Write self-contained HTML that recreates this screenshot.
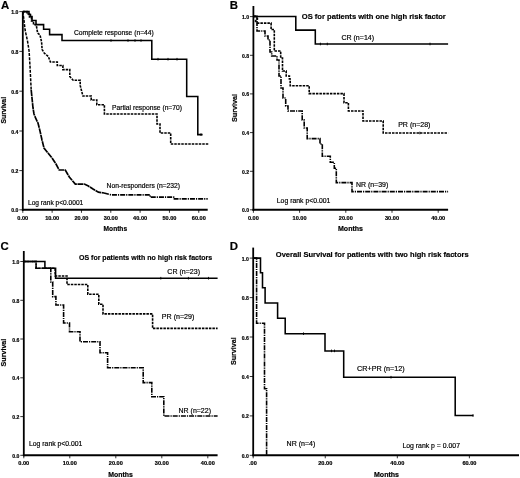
<!DOCTYPE html>
<html><head><meta charset="utf-8"><style>
html,body{margin:0;padding:0;background:#fff;}
body{width:520px;height:478px;overflow:hidden;}
svg{display:block;will-change:transform;font-family:"Liberation Sans", sans-serif;}
text{fill:#000;stroke:#000;stroke-width:0.18px;}
</style></head><body>
<svg width="520" height="478" viewBox="0 0 520 478">
<rect width="520" height="478" fill="#fff"/>
<text x="0.9" y="9.2" font-size="11.4" font-weight="bold" text-anchor="start">A</text>
<line x1="22.8" y1="11.6" x2="22.8" y2="210.8" stroke="#000" stroke-width="1.8"/>
<line x1="19.3" y1="11.6" x2="22.8" y2="11.6" stroke="#000" stroke-width="0.8"/>
<text x="18.4" y="14.1" font-size="5.1" font-weight="bold" text-anchor="end">1.0</text>
<line x1="19.3" y1="51.4" x2="22.8" y2="51.4" stroke="#000" stroke-width="0.8"/>
<text x="18.4" y="53.9" font-size="5.1" font-weight="bold" text-anchor="end">0.8</text>
<line x1="19.3" y1="91.2" x2="22.8" y2="91.2" stroke="#000" stroke-width="0.8"/>
<text x="18.4" y="93.7" font-size="5.1" font-weight="bold" text-anchor="end">0.6</text>
<line x1="19.3" y1="131.0" x2="22.8" y2="131.0" stroke="#000" stroke-width="0.8"/>
<text x="18.4" y="133.5" font-size="5.1" font-weight="bold" text-anchor="end">0.4</text>
<line x1="19.3" y1="170.6" x2="22.8" y2="170.6" stroke="#000" stroke-width="0.8"/>
<text x="18.4" y="173.1" font-size="5.1" font-weight="bold" text-anchor="end">0.2</text>
<line x1="19.3" y1="209.8" x2="22.8" y2="209.8" stroke="#000" stroke-width="0.8"/>
<text x="18.4" y="212.3" font-size="5.1" font-weight="bold" text-anchor="end">0.0</text>
<line x1="21.900000000000002" y1="209.8" x2="207.7" y2="209.8" stroke="#000" stroke-width="1.9"/>
<line x1="22.8" y1="209.8" x2="22.8" y2="212.8" stroke="#000" stroke-width="0.8"/>
<text x="22.8" y="219.5" font-size="5.6" font-weight="bold" text-anchor="middle">0.00</text>
<line x1="52.129999999999995" y1="209.8" x2="52.129999999999995" y2="212.8" stroke="#000" stroke-width="0.8"/>
<text x="52.129999999999995" y="219.5" font-size="5.6" font-weight="bold" text-anchor="middle">10.00</text>
<line x1="81.46" y1="209.8" x2="81.46" y2="212.8" stroke="#000" stroke-width="0.8"/>
<text x="81.46" y="219.5" font-size="5.6" font-weight="bold" text-anchor="middle">20.00</text>
<line x1="110.78999999999999" y1="209.8" x2="110.78999999999999" y2="212.8" stroke="#000" stroke-width="0.8"/>
<text x="110.78999999999999" y="219.5" font-size="5.6" font-weight="bold" text-anchor="middle">30.00</text>
<line x1="140.12" y1="209.8" x2="140.12" y2="212.8" stroke="#000" stroke-width="0.8"/>
<text x="140.12" y="219.5" font-size="5.6" font-weight="bold" text-anchor="middle">40.00</text>
<line x1="169.45" y1="209.8" x2="169.45" y2="212.8" stroke="#000" stroke-width="0.8"/>
<text x="169.45" y="219.5" font-size="5.6" font-weight="bold" text-anchor="middle">50.00</text>
<line x1="198.78" y1="209.8" x2="198.78" y2="212.8" stroke="#000" stroke-width="0.8"/>
<text x="198.78" y="219.5" font-size="5.6" font-weight="bold" text-anchor="middle">60.00</text>
<text x="0" y="0" font-size="6.6" font-weight="bold" text-anchor="middle" textLength="26.69999999999999" lengthAdjust="spacingAndGlyphs" transform="translate(5.8,110.25) rotate(-90)">Survival</text>
<text x="103.6" y="230.7" font-size="6.7" font-weight="bold" textLength="23.5" lengthAdjust="spacingAndGlyphs" text-anchor="start">Months</text>
<polyline points="22.8,11.6 29,11.6 29,14.5 30.5,14.5 30.5,16.5 32,16.5 32,20.5 36,20.5 36,24.6 43.6,24.6 43.6,29.3 49.6,29.3 49.6,34.6 62,34.6 62,40.5 151.8,40.5 151.8,59.2 186.7,59.2 186.7,96.4 197.8,96.4 197.8,134.6 202.6,134.6" fill="none" stroke="#000" stroke-width="1.55" stroke-linejoin="miter" stroke-linecap="butt"/>
<polyline points="22.8,11.6 27,11.6 27,14 29.5,14 29.5,17 31.5,17 31.5,21 33.5,21 33.5,24.6 36.2,24.6 36.6,27 37.6,33 40,35 41.6,42 42.1,49.5 44.2,53 48.3,56.5 50.4,62 57.3,62 57.3,65.5 62.9,65.5 62.9,69.6 69.8,69.6 69.8,76.5 73.2,80.3 80.2,80.3 80.2,85.5 82.9,96 91.2,96 91.2,100 96.8,100 96.8,104.8 104.4,104.8 104.4,114 157,114 157,124 160,124 160,133 170.7,133 170.7,144 208.6,144" fill="none" stroke="#000" stroke-width="1.6" stroke-dasharray="2.5,1" stroke-linejoin="miter" stroke-linecap="butt"/>
<polyline points="22.8,11.6 23.7,18 25.1,30 27.5,41 29.1,51 30.1,68 31.2,90" fill="none" stroke="#000" stroke-width="1.5" stroke-dasharray="3,1.2" stroke-linejoin="miter" stroke-linecap="butt"/>
<polyline points="31.2,90 33,108 34,114 36,119 38,123 40,131 42,140 44,148 48,153 52,158 56,164 59.2,170 65.3,170 69.3,177 75.3,184.1 84.3,184.1 88.4,186.1 93,189 98.4,192.2 104,193" fill="none" stroke="#000" stroke-width="1.7" stroke-dasharray="6,0.6" stroke-linejoin="miter" stroke-linecap="butt"/>
<polyline points="104,193 111,194.9 150.2,194.9 150.2,197.1 174.4,197.1 174.4,198.9 207.7,198.9" fill="none" stroke="#000" stroke-width="1.6" stroke-dasharray="5,1,1.2,1" stroke-linejoin="miter" stroke-linecap="butt"/>
<text x="74" y="35.4" font-size="6.7" textLength="79.8" lengthAdjust="spacingAndGlyphs" text-anchor="start">Complete response (n=44)</text>
<text x="112" y="110" font-size="6.7" textLength="70" lengthAdjust="spacingAndGlyphs" text-anchor="start">Partial response (n=70)</text>
<text x="106.6" y="188" font-size="6.7" textLength="73.4" lengthAdjust="spacingAndGlyphs" text-anchor="start">Non-responders (n=232)</text>
<text x="28" y="205.2" font-size="6.7" textLength="55.3" lengthAdjust="spacingAndGlyphs" text-anchor="start">Log rank p&lt;0.0001</text>
<text x="229.7" y="9.2" font-size="11.4" font-weight="bold" text-anchor="start">B</text>
<line x1="253.4" y1="6" x2="253.4" y2="210.8" stroke="#000" stroke-width="1.8"/>
<line x1="249.9" y1="16.6" x2="253.4" y2="16.6" stroke="#000" stroke-width="0.8"/>
<text x="249.0" y="19.1" font-size="5.1" font-weight="bold" text-anchor="end">1.0</text>
<line x1="249.9" y1="55.3" x2="253.4" y2="55.3" stroke="#000" stroke-width="0.8"/>
<text x="249.0" y="57.8" font-size="5.1" font-weight="bold" text-anchor="end">0.8</text>
<line x1="249.9" y1="93.9" x2="253.4" y2="93.9" stroke="#000" stroke-width="0.8"/>
<text x="249.0" y="96.4" font-size="5.1" font-weight="bold" text-anchor="end">0.6</text>
<line x1="249.9" y1="132.6" x2="253.4" y2="132.6" stroke="#000" stroke-width="0.8"/>
<text x="249.0" y="135.1" font-size="5.1" font-weight="bold" text-anchor="end">0.4</text>
<line x1="249.9" y1="171.3" x2="253.4" y2="171.3" stroke="#000" stroke-width="0.8"/>
<text x="249.0" y="173.8" font-size="5.1" font-weight="bold" text-anchor="end">0.2</text>
<line x1="249.9" y1="209.8" x2="253.4" y2="209.8" stroke="#000" stroke-width="0.8"/>
<text x="249.0" y="212.3" font-size="5.1" font-weight="bold" text-anchor="end">0.0</text>
<line x1="252.5" y1="209.8" x2="448.1" y2="209.8" stroke="#000" stroke-width="1.9"/>
<line x1="253.4" y1="209.8" x2="253.4" y2="212.8" stroke="#000" stroke-width="0.8"/>
<text x="253.4" y="219.5" font-size="5.6" font-weight="bold" text-anchor="middle">0.00</text>
<line x1="299.6" y1="209.8" x2="299.6" y2="212.8" stroke="#000" stroke-width="0.8"/>
<text x="299.6" y="219.5" font-size="5.6" font-weight="bold" text-anchor="middle">10.00</text>
<line x1="345.8" y1="209.8" x2="345.8" y2="212.8" stroke="#000" stroke-width="0.8"/>
<text x="345.8" y="219.5" font-size="5.6" font-weight="bold" text-anchor="middle">20.00</text>
<line x1="392.0" y1="209.8" x2="392.0" y2="212.8" stroke="#000" stroke-width="0.8"/>
<text x="392.0" y="219.5" font-size="5.6" font-weight="bold" text-anchor="middle">30.00</text>
<line x1="438.20000000000005" y1="209.8" x2="438.20000000000005" y2="212.8" stroke="#000" stroke-width="0.8"/>
<text x="438.20000000000005" y="219.5" font-size="5.6" font-weight="bold" text-anchor="middle">40.00</text>
<text x="0" y="0" font-size="6.6" font-weight="bold" text-anchor="middle" textLength="28" lengthAdjust="spacingAndGlyphs" transform="translate(237.3,108.0) rotate(-90)">Survival</text>
<text x="338" y="231.4" font-size="6.7" font-weight="bold" textLength="25" lengthAdjust="spacingAndGlyphs" text-anchor="start">Months</text>
<text x="301.8" y="19.1" font-size="7.58" font-weight="bold" textLength="144" lengthAdjust="spacingAndGlyphs" text-anchor="start">OS for patients with one high risk factor</text>
<polyline points="253.4,16.4 295.8,16.4 295.8,30.1 315.3,30.1 315.3,44 448.1,44" fill="none" stroke="#000" stroke-width="1.55" stroke-linejoin="miter" stroke-linecap="butt"/>
<polyline points="253.4,16.4 255.5,16.4 257.5,19 255.5,21 257.5,23.1 271.1,23.1 271.1,29.5 274.3,29.5 274.3,51 280.7,51 280.7,58 282.5,58 282.5,71 286.2,71 286.2,76 289.4,76 289.4,79 290.2,79 290.2,85.8 309.2,85.8 309.2,93.6 344,93.6 344,102.8 348.4,102.8 348.4,111 363,111 363,121 383.2,121 383.2,133 448.1,133" fill="none" stroke="#000" stroke-width="1.6" stroke-dasharray="2.5,1" stroke-linejoin="miter" stroke-linecap="butt"/>
<polyline points="253.4,16.4 257,16.4 257,31 265,31 265,36 268,36 268,40 270,40 270,52 271.7,52 271.7,56 277,56 277,60 279,60 279,76 281,76 281,88 283,88 283,98 285.7,98 285.7,106 288,106 288,111 302.2,111 302.2,120 304.2,120 304.2,128 307.2,128 307.2,138.6 320,138.6 320,144 322.3,144 322.3,156.3 330.3,156.3 330.3,162.3 334.3,162.3 334.3,168.3 336.3,168.3 336.3,182.6 352,182.6 352,191.6 448.1,191.6" fill="none" stroke="#000" stroke-width="1.6" stroke-dasharray="5,1,1.2,1" stroke-linejoin="miter" stroke-linecap="butt"/>
<text x="341.4" y="39.9" font-size="6.7" textLength="32.7" lengthAdjust="spacingAndGlyphs" text-anchor="start">CR (n=14)</text>
<text x="398.2" y="126.5" font-size="6.7" textLength="32.2" lengthAdjust="spacingAndGlyphs" text-anchor="start">PR (n=28)</text>
<text x="356" y="187" font-size="6.7" textLength="32.2" lengthAdjust="spacingAndGlyphs" text-anchor="start">NR (n=39)</text>
<text x="276.8" y="202.6" font-size="6.7" textLength="53.6" lengthAdjust="spacingAndGlyphs" text-anchor="start">Log rank p&lt;0.001</text>
<text x="0.4" y="250.3" font-size="11.4" font-weight="bold" text-anchor="start">C</text>
<line x1="23.8" y1="251" x2="23.8" y2="456.3" stroke="#000" stroke-width="1.8"/>
<line x1="20.3" y1="261.5" x2="23.8" y2="261.5" stroke="#000" stroke-width="0.8"/>
<text x="19.4" y="264.0" font-size="5.1" font-weight="bold" text-anchor="end">1.0</text>
<line x1="20.3" y1="300.3" x2="23.8" y2="300.3" stroke="#000" stroke-width="0.8"/>
<text x="19.4" y="302.8" font-size="5.1" font-weight="bold" text-anchor="end">0.8</text>
<line x1="20.3" y1="339.0" x2="23.8" y2="339.0" stroke="#000" stroke-width="0.8"/>
<text x="19.4" y="341.5" font-size="5.1" font-weight="bold" text-anchor="end">0.6</text>
<line x1="20.3" y1="377.8" x2="23.8" y2="377.8" stroke="#000" stroke-width="0.8"/>
<text x="19.4" y="380.3" font-size="5.1" font-weight="bold" text-anchor="end">0.4</text>
<line x1="20.3" y1="416.6" x2="23.8" y2="416.6" stroke="#000" stroke-width="0.8"/>
<text x="19.4" y="419.1" font-size="5.1" font-weight="bold" text-anchor="end">0.2</text>
<line x1="20.3" y1="455.3" x2="23.8" y2="455.3" stroke="#000" stroke-width="0.8"/>
<text x="19.4" y="457.8" font-size="5.1" font-weight="bold" text-anchor="end">0.0</text>
<line x1="22.900000000000002" y1="455.3" x2="217.6" y2="455.3" stroke="#000" stroke-width="1.9"/>
<line x1="23.8" y1="455.3" x2="23.8" y2="458.3" stroke="#000" stroke-width="0.8"/>
<text x="23.8" y="465.0" font-size="5.6" font-weight="bold" text-anchor="middle">0.00</text>
<line x1="69.8" y1="455.3" x2="69.8" y2="458.3" stroke="#000" stroke-width="0.8"/>
<text x="69.8" y="465.0" font-size="5.6" font-weight="bold" text-anchor="middle">10.00</text>
<line x1="115.8" y1="455.3" x2="115.8" y2="458.3" stroke="#000" stroke-width="0.8"/>
<text x="115.8" y="465.0" font-size="5.6" font-weight="bold" text-anchor="middle">20.00</text>
<line x1="161.8" y1="455.3" x2="161.8" y2="458.3" stroke="#000" stroke-width="0.8"/>
<text x="161.8" y="465.0" font-size="5.6" font-weight="bold" text-anchor="middle">30.00</text>
<line x1="207.8" y1="455.3" x2="207.8" y2="458.3" stroke="#000" stroke-width="0.8"/>
<text x="207.8" y="465.0" font-size="5.6" font-weight="bold" text-anchor="middle">40.00</text>
<text x="0" y="0" font-size="6.6" font-weight="bold" text-anchor="middle" textLength="27.69999999999999" lengthAdjust="spacingAndGlyphs" transform="translate(5.8,352.54999999999995) rotate(-90)">Survival</text>
<text x="108.2" y="477.0" font-size="6.7" font-weight="bold" textLength="24.6" lengthAdjust="spacingAndGlyphs" text-anchor="start">Months</text>
<text x="79" y="259.6" font-size="7.58" font-weight="bold" textLength="133.2" lengthAdjust="spacingAndGlyphs" text-anchor="start">OS for patients with no high risk factors</text>
<polyline points="23.8,261.5 44.9,261.5 44.9,268.3 55.6,268.3 55.6,278.2 217.6,278.2" fill="none" stroke="#000" stroke-width="1.55" stroke-linejoin="miter" stroke-linecap="butt"/>
<polyline points="23.8,261.5 36.1,261.5 36.1,268.3 55.2,268.3 55.2,276 67,276 67,284.5 87.8,284.5 87.8,294.2 98.8,294.2 98.8,304.3 103,304.3 103,313.9 152.6,313.9 152.6,328.4 217.6,328.4" fill="none" stroke="#000" stroke-width="1.6" stroke-dasharray="2.5,1" stroke-linejoin="miter" stroke-linecap="butt"/>
<polyline points="23.8,261.5 36.1,261.5 36.1,268.3 50.8,268.3 50.8,282 52.7,282 52.7,296.6 55.9,296.6 55.9,305 63.6,305 63.6,323 69.5,323 69.5,331.7 80,331.7 80,341.7 100,341.7 100,352.7 107.6,352.7 107.6,367.8 143.2,367.8 143.2,382.6 151.8,382.6 151.8,396.7 163.8,396.7 163.8,416 217.6,416" fill="none" stroke="#000" stroke-width="1.6" stroke-dasharray="5,1,1.2,1" stroke-linejoin="miter" stroke-linecap="butt"/>
<text x="167.3" y="273.8" font-size="6.7" textLength="32.7" lengthAdjust="spacingAndGlyphs" text-anchor="start">CR (n=23)</text>
<text x="161.8" y="319.3" font-size="6.7" textLength="32.6" lengthAdjust="spacingAndGlyphs" text-anchor="start">PR (n=29)</text>
<text x="178.5" y="412.6" font-size="6.7" textLength="32.5" lengthAdjust="spacingAndGlyphs" text-anchor="start">NR (n=22)</text>
<text x="29" y="445.5" font-size="6.7" textLength="53.4" lengthAdjust="spacingAndGlyphs" text-anchor="start">Log rank p&lt;0.001</text>
<text x="229.7" y="250.3" font-size="11.4" font-weight="bold" text-anchor="start">D</text>
<line x1="253.2" y1="247.6" x2="253.2" y2="456.3" stroke="#000" stroke-width="1.8"/>
<line x1="249.7" y1="258.1" x2="253.2" y2="258.1" stroke="#000" stroke-width="0.8"/>
<text x="248.79999999999998" y="260.6" font-size="5.1" font-weight="bold" text-anchor="end">1.0</text>
<line x1="249.7" y1="297.6" x2="253.2" y2="297.6" stroke="#000" stroke-width="0.8"/>
<text x="248.79999999999998" y="300.1" font-size="5.1" font-weight="bold" text-anchor="end">0.8</text>
<line x1="249.7" y1="337.0" x2="253.2" y2="337.0" stroke="#000" stroke-width="0.8"/>
<text x="248.79999999999998" y="339.5" font-size="5.1" font-weight="bold" text-anchor="end">0.6</text>
<line x1="249.7" y1="376.5" x2="253.2" y2="376.5" stroke="#000" stroke-width="0.8"/>
<text x="248.79999999999998" y="379.0" font-size="5.1" font-weight="bold" text-anchor="end">0.4</text>
<line x1="249.7" y1="415.9" x2="253.2" y2="415.9" stroke="#000" stroke-width="0.8"/>
<text x="248.79999999999998" y="418.4" font-size="5.1" font-weight="bold" text-anchor="end">0.2</text>
<line x1="249.7" y1="455.3" x2="253.2" y2="455.3" stroke="#000" stroke-width="0.8"/>
<text x="248.79999999999998" y="457.8" font-size="5.1" font-weight="bold" text-anchor="end">0.0</text>
<line x1="252.29999999999998" y1="455.3" x2="519" y2="455.3" stroke="#000" stroke-width="1.9"/>
<line x1="325.26" y1="455.3" x2="325.26" y2="458.3" stroke="#000" stroke-width="0.8"/>
<text x="325.26" y="465.0" font-size="5.6" font-weight="bold" text-anchor="middle">20.00</text>
<line x1="397.32" y1="455.3" x2="397.32" y2="458.3" stroke="#000" stroke-width="0.8"/>
<text x="397.32" y="465.0" font-size="5.6" font-weight="bold" text-anchor="middle">40.00</text>
<line x1="469.38" y1="455.3" x2="469.38" y2="458.3" stroke="#000" stroke-width="0.8"/>
<text x="469.38" y="465.0" font-size="5.6" font-weight="bold" text-anchor="middle">60.00</text>
<line x1="253.2" y1="455.3" x2="253.2" y2="458.3" stroke="#000" stroke-width="0.8"/>
<text x="249" y="464.9" font-size="5.6" font-weight="bold" text-anchor="start">.00</text>
<text x="0" y="0" font-size="6.6" font-weight="bold" text-anchor="middle" textLength="27.900000000000034" lengthAdjust="spacingAndGlyphs" transform="translate(235.8,351.15) rotate(-90)">Survival</text>
<text x="374" y="477.0" font-size="6.7" font-weight="bold" textLength="25" lengthAdjust="spacingAndGlyphs" text-anchor="start">Months</text>
<text x="275.8" y="257.3" font-size="7.58" font-weight="bold" textLength="192.8" lengthAdjust="spacingAndGlyphs" text-anchor="start">Overall Survival for patients with two high risk factors</text>
<polyline points="253.2,258.1 260.5,258.1 260.5,272.7 262.5,272.7 262.5,287.8 265.1,287.8 265.1,302.9 277.6,302.9 277.6,318.3 285.2,318.3 285.2,333.7 325,333.7 325,350.9 343.7,350.9 343.7,377.2 455.2,377.2 455.2,415.5 473.4,415.5" fill="none" stroke="#000" stroke-width="1.55" stroke-linejoin="miter" stroke-linecap="butt"/>
<polyline points="253.2,258.1 256.6,258.1 256.6,323.3 264.5,323.3 264.5,388.7 266.6,388.7 266.6,455.3" fill="none" stroke="#000" stroke-width="1.6" stroke-dasharray="5,1,1.2,1" stroke-linejoin="miter" stroke-linecap="butt"/>
<text x="357.1" y="370.6" font-size="6.7" textLength="47.6" lengthAdjust="spacingAndGlyphs" text-anchor="start">CR+PR (n=12)</text>
<text x="286.6" y="445.6" font-size="6.7" textLength="28.8" lengthAdjust="spacingAndGlyphs" text-anchor="start">NR (n=4)</text>
<text x="402.4" y="448" font-size="6.7" textLength="57.6" lengthAdjust="spacingAndGlyphs" text-anchor="start">Log rank p = 0.007</text>
<line x1="111" y1="39.2" x2="111" y2="41.8" stroke="#000" stroke-width="0.9"/>
<line x1="128" y1="39.2" x2="128" y2="41.8" stroke="#000" stroke-width="0.9"/>
<line x1="135" y1="39.2" x2="135" y2="41.8" stroke="#000" stroke-width="0.9"/>
<line x1="141" y1="39.2" x2="141" y2="41.8" stroke="#000" stroke-width="0.9"/>
<line x1="158" y1="57.900000000000006" x2="158" y2="60.5" stroke="#000" stroke-width="0.9"/>
<line x1="168" y1="57.900000000000006" x2="168" y2="60.5" stroke="#000" stroke-width="0.9"/>
<line x1="177" y1="57.900000000000006" x2="177" y2="60.5" stroke="#000" stroke-width="0.9"/>
<line x1="201" y1="133.29999999999998" x2="201" y2="135.9" stroke="#000" stroke-width="0.9"/>
<line x1="320.4" y1="42.7" x2="320.4" y2="45.3" stroke="#000" stroke-width="0.9"/>
<line x1="327.3" y1="42.7" x2="327.3" y2="45.3" stroke="#000" stroke-width="0.9"/>
<line x1="430" y1="42.7" x2="430" y2="45.3" stroke="#000" stroke-width="0.9"/>
<line x1="419.8" y1="131.7" x2="419.8" y2="134.3" stroke="#000" stroke-width="0.9"/>
<line x1="160.8" y1="276.9" x2="160.8" y2="279.5" stroke="#000" stroke-width="0.9"/>
<line x1="188.4" y1="276.9" x2="188.4" y2="279.5" stroke="#000" stroke-width="0.9"/>
<line x1="208.5" y1="276.9" x2="208.5" y2="279.5" stroke="#000" stroke-width="0.9"/>
<line x1="303.5" y1="332.4" x2="303.5" y2="335.0" stroke="#000" stroke-width="0.9"/>
<line x1="331.5" y1="349.59999999999997" x2="331.5" y2="352.2" stroke="#000" stroke-width="0.9"/>
<line x1="334.5" y1="349.59999999999997" x2="334.5" y2="352.2" stroke="#000" stroke-width="0.9"/>
<line x1="391" y1="375.9" x2="391" y2="378.5" stroke="#000" stroke-width="0.9"/>
<line x1="473" y1="414.2" x2="473" y2="416.8" stroke="#000" stroke-width="0.9"/>
</svg>
</body></html>
